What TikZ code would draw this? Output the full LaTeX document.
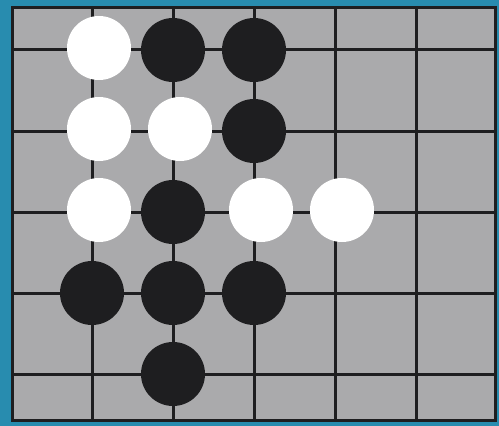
\documentclass[tikz,border=0pt]{standalone}
\definecolor{tealframe}{RGB}{40,140,175}
\definecolor{boardgray}{RGB}{170,170,172}
\definecolor{ink}{RGB}{30,30,32}
\tikzset{
    stone/.style={circle, minimum size=3.2cm, inner sep=0pt},
    black stone/.style={stone, fill=ink},
    white stone/.style={stone, fill=white, xshift=0.35cm, yshift=0.1cm},
    gridline/.style={ink, line width=0.15cm}
}
\begin{document}
\begin{tikzpicture}[x=0.05cm, y=-0.05cm]
    \fill[tealframe] (0,0) rectangle (499,426);
    \draw[gridline, fill=boardgray] (12,8) rectangle (495,420);
    \foreach \i in {0,...,4} {
        \draw[gridline] (92+81*\i, 8) -- (92+81*\i, 420);
        \draw[gridline] (12, 50+81*\i) -- (495, 50+81*\i);
    }
    % stones: column/row from the upper left intersection
    \foreach \c/\r in {1/0, 2/0, 2/1, 1/2, 0/3, 1/3, 2/3, 1/4}
        \node[black stone] (b\c\r) at (92+81*\c, 50+81*\r) {};
    \foreach \c/\r in {0/0, 0/1, 1/1, 0/2, 2/2, 3/2}
        \node[white stone] (w\c\r) at (92+81*\c, 50+81*\r) {};
\end{tikzpicture}
\end{document}
